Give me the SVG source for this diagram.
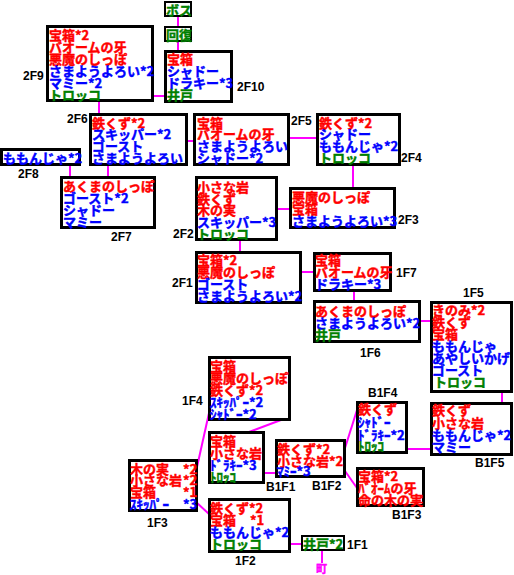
<svg xmlns="http://www.w3.org/2000/svg" width="514" height="575" viewBox="0 0 514 575">
<style>
.box{fill:#fff;stroke:#000;stroke-width:3}
.sbox{fill:#fff;stroke:#000;stroke-width:2}
.t{font-family:"Noto Sans CJK JP","Noto Sans CJK SC",sans-serif;font-size:13px;font-weight:bold;stroke-width:0.45px}
.r{fill:#ff0000;stroke:#ff0000}
.b{fill:#0000ff;stroke:#0000ff}
.g{fill:#008000;stroke:#008000}
.lbl{font-family:"Liberation Sans",Arial,sans-serif;font-size:12px;font-weight:bold;fill:#000}
#links line{stroke:#ff00ff;stroke-width:2}
</style>
<rect x="0" y="0" width="514" height="575" fill="#fff"/>

<g id="links">
<line x1="178" y1="17" x2="178" y2="26"/>
<line x1="178" y1="42" x2="178" y2="50"/>
<line x1="154" y1="96" x2="164" y2="96"/>
<line x1="99" y1="102" x2="99" y2="113"/>
<line x1="188" y1="141" x2="193" y2="141"/>
<line x1="70" y1="166" x2="70" y2="176"/>
<line x1="108" y1="166" x2="108" y2="176"/>
<line x1="290" y1="138" x2="316" y2="138"/>
<line x1="353" y1="166" x2="353" y2="187"/>
<line x1="278" y1="209" x2="289" y2="209"/>
<line x1="240" y1="241" x2="240" y2="251"/>
<line x1="302" y1="272" x2="313" y2="272"/>
<line x1="354" y1="292" x2="354" y2="300"/>
<line x1="421" y1="321" x2="430" y2="321"/>
<line x1="502" y1="393" x2="502" y2="402"/>
<line x1="408" y1="449" x2="430" y2="449"/>
<line x1="345" y1="448" x2="357" y2="410"/>
<line x1="345" y1="471" x2="357" y2="488"/>
<line x1="265" y1="473" x2="275" y2="473"/>
<line x1="281" y1="420" x2="249" y2="432"/>
<line x1="197" y1="467" x2="209" y2="413"/>
<line x1="196" y1="502" x2="209" y2="514"/>
<line x1="291" y1="544" x2="301" y2="544"/>
<line x1="322" y1="551" x2="322" y2="563"/>
</g>

<g id="boss">
<rect class="sbox" x="165" y="2" width="26" height="14"/>
<text class="t g" x="166" y="14.5">ボス</text>
</g>

<g id="heal">
<rect class="sbox" x="165" y="27" width="26" height="14"/>
<text class="t g" x="166" y="39.5">回復</text>
</g>

<g id="f2f10">
<rect class="box" x="165.5" y="51.5" width="66" height="50"/>
<text class="t"><tspan class="r" x="167" y="64">宝箱</tspan><tspan class="b" x="167" y="76">シャドー</tspan><tspan class="b" x="167" y="88">ドラキー*3</tspan><tspan class="g" x="167" y="100">井戸</tspan></text>
<text class="lbl" x="237" y="91">2F10</text>
</g>

<g id="f2f9">
<rect class="box" x="47.5" y="26.5" width="105" height="74"/>
<text class="t"><tspan class="r" x="49" y="40">宝箱*2</tspan><tspan class="r" x="49" y="52">バオームの牙</tspan><tspan class="r" x="49" y="64">悪魔のしっぽ</tspan><tspan class="b" x="49" y="76">さまようよろい*2</tspan><tspan class="b" x="49" y="88">マミー*2</tspan><tspan class="g" x="49" y="100">トロッコ</tspan></text>
<text class="lbl" x="23" y="80">2F9</text>
</g>

<g id="f2f6">
<rect class="box" x="90.5" y="114.5" width="96" height="50"/>
<text class="t"><tspan class="r" x="92" y="127.5">鉄くず*2</tspan><tspan class="b" x="92" y="139.3">スキッパー*2</tspan><tspan class="b" x="92" y="151.1">ゴースト</tspan><tspan class="b" x="92" y="163">さまようよろい</tspan></text>
<text class="lbl" x="67" y="123">2F6</text>
</g>

<g id="f2f8">
<rect class="box" x="1.5" y="149.5" width="78" height="15"/>
<text class="t b" x="3" y="162.5">ももんじゃ*2</text>
<text class="lbl" x="18" y="178">2F8</text>
</g>

<g id="f2f7">
<rect class="box" x="61.5" y="177.5" width="93" height="50"/>
<text class="t"><tspan class="r" x="63" y="191">あくまのしっぽ</tspan><tspan class="b" x="63" y="203">ゴースト*2</tspan><tspan class="b" x="63" y="215">シャドー</tspan><tspan class="b" x="63" y="227">マミー</tspan></text>
<text class="lbl" x="111" y="241">2F7</text>
</g>

<g id="f2f5">
<rect class="box" x="194.5" y="114.5" width="94" height="50"/>
<text class="t"><tspan class="r" x="197" y="127.5">宝箱</tspan><tspan class="r" x="197" y="139.3">バオームの牙</tspan><tspan class="b" x="197" y="151.1">さまようよろい</tspan><tspan class="b" x="197" y="163">シャドー*2</tspan></text>
<text class="lbl" x="291" y="125">2F5</text>
</g>

<g id="f2f4">
<rect class="box" x="317.5" y="114.5" width="82" height="50"/>
<text class="t"><tspan class="r" x="319" y="127.5">鉄くず*2</tspan><tspan class="b" x="319" y="139.3">シャドー</tspan><tspan class="b" x="319" y="151.1">ももんじゃ*2</tspan><tspan class="g" x="319" y="163">トロッコ</tspan></text>
<text class="lbl" x="401" y="162">2F4</text>
</g>

<g id="f2f3">
<rect class="box" x="290.5" y="188.5" width="104" height="39"/>
<text class="t"><tspan class="r" x="292" y="202">悪魔のしっぽ</tspan><tspan class="r" x="292" y="214">宝箱</tspan><tspan class="b" x="292" y="226">さまようよろい*3</tspan></text>
<text class="lbl" x="398" y="224">2F3</text>
</g>

<g id="f2f2">
<rect class="box" x="196.5" y="177.5" width="80" height="62"/>
<text class="t"><tspan class="r" x="197" y="192">小さな岩</tspan><tspan class="r" x="197" y="203.5">鉄くず</tspan><tspan class="r" x="197" y="215">木の実</tspan><tspan class="b" x="197" y="227">スキッパー*3</tspan><tspan class="g" x="197" y="239">トロッコ</tspan></text>
<text class="lbl" x="173" y="238">2F2</text>
</g>

<g id="f2f1">
<rect class="box" x="196.5" y="252.5" width="104" height="50"/>
<text class="t"><tspan class="r" x="197" y="265">宝箱*2</tspan><tspan class="r" x="197" y="277">悪魔のしっぽ</tspan><tspan class="b" x="197" y="289">ゴースト</tspan><tspan class="b" x="197" y="301">さまようよろい*2</tspan></text>
<text class="lbl" x="172" y="287">2F1</text>
</g>

<g id="f1f7">
<rect class="box" x="314.5" y="253.5" width="76" height="37"/>
<text class="t"><tspan class="r" x="315" y="265">宝箱</tspan><tspan class="r" x="315" y="277">バオームの牙</tspan><tspan class="b" x="315" y="289">ドラキー*3</tspan></text>
<text class="lbl" x="396" y="277">1F7</text>
</g>

<g id="f1f6">
<rect class="box" x="314.5" y="301.5" width="105" height="40"/>
<text class="t"><tspan class="r" x="315" y="316">あくまのしっぽ</tspan><tspan class="b" x="315" y="328">さまようよろい*2</tspan><tspan class="g" x="315" y="340">井戸</tspan></text>
<text class="lbl" x="360" y="357">1F6</text>
</g>

<g id="f1f5">
<rect class="box" x="431.5" y="302.5" width="80" height="89"/>
<text class="t"><tspan class="r" x="432" y="314.5">きのみ*2</tspan><tspan class="r" x="432" y="326.5">鉄くず</tspan><tspan class="r" x="432" y="338.5">宝箱</tspan><tspan class="b" x="432" y="350.5">ももんじゃ</tspan><tspan class="b" x="432" y="362.5">あやしいかげ</tspan><tspan class="b" x="432" y="374.5">ゴースト</tspan><tspan class="g" x="434" y="386.5">トロッコ</tspan></text>
<text class="lbl" x="463" y="297">1F5</text>
</g>

<g id="fb1f5">
<rect class="box" x="431.5" y="403.5" width="80" height="51"/>
<text class="t"><tspan class="r" x="432" y="415">鉄くず</tspan><tspan class="r" x="432" y="427.5">小さな岩</tspan><tspan class="b" x="432" y="440">ももんじゃ*2</tspan><tspan class="b" x="432" y="452">マミー</tspan></text>
<text class="lbl" x="475" y="467">B1F5</text>
</g>

<g id="fb1f4">
<rect class="box" x="357.5" y="402.5" width="49" height="50"/>
<text class="t"><tspan class="r" x="358" y="414">鉄くず</tspan><tspan class="b" x="358" y="427">ｼｬﾄﾞｰ</tspan><tspan class="b" x="358" y="439.5">ﾄﾞﾗｷｰ*2</tspan><tspan class="g" x="358" y="451">ﾄﾛｯｺ</tspan></text>
<text class="lbl" x="368" y="397">B1F4</text>
</g>

<g id="fb1f2">
<rect class="box" x="276.5" y="440.5" width="68" height="36"/>
<text class="t"><tspan class="r" x="277" y="453.5">鉄くず*2</tspan><tspan class="r" x="277" y="466">小さな岩*2</tspan><tspan class="b" x="277" y="475.5">ﾏﾐｰ*3</tspan></text>
<text class="lbl" x="312" y="490">B1F2</text>
</g>

<g id="fb1f3">
<rect class="box" x="357.5" y="468.5" width="66" height="37"/>
<text class="t"><tspan class="r" x="358" y="481">宝箱*2</tspan><tspan class="r" x="358" y="493">ﾊﾞｵｰﾑの牙</tspan><tspan class="r" x="358" y="505">命の木の実</tspan></text>
<text class="lbl" x="392" y="519">B1F3</text>
</g>

<g id="fb1f1">
<rect class="box" x="209.5" y="432.5" width="54" height="50"/>
<text class="t"><tspan class="r" x="210" y="446">宝箱</tspan><tspan class="r" x="210" y="458">小さな岩</tspan><tspan class="b" x="210" y="470">ﾄﾞﾗｷｰ*3</tspan><tspan class="g" x="210" y="482">ﾄﾛｯｺ</tspan></text>
<text class="lbl" x="266" y="491">B1F1</text>
</g>

<g id="f1f4">
<rect class="box" x="209.5" y="357.5" width="80" height="62"/>
<text class="t"><tspan class="r" x="210" y="371">宝箱</tspan><tspan class="r" x="210" y="383">悪魔のしっぽ</tspan><tspan class="r" x="210" y="395">鉄くず*2</tspan><tspan class="b" x="210" y="407">ｽｷｯﾊﾟｰ*2</tspan><tspan class="b" x="210" y="419">ｼｬﾄﾞｰ*2</tspan></text>
<text class="lbl" x="182" y="405">1F4</text>
</g>

<g id="f1f3">
<rect class="box" x="129.5" y="460.5" width="67" height="50"/>
<text class="t"><tspan class="r" x="130" y="473.5">木の実</tspan><tspan class="r" x="183" y="473.5">*2</tspan><tspan class="r" x="130" y="485">小さな岩</tspan><tspan class="r" x="183" y="485">*2</tspan><tspan class="r" x="130" y="496.5">宝箱</tspan><tspan class="r" x="183" y="496.5">*1</tspan><tspan class="b" x="130" y="509">ｽｷｯﾊﾟｰ</tspan><tspan class="b" x="183" y="509">*3</tspan></text>
<text class="lbl" x="147" y="527">1F3</text>
</g>

<g id="f1f2">
<rect class="box" x="209.5" y="499.5" width="80" height="52"/>
<text class="t"><tspan class="r" x="210" y="512.5">鉄くず*2</tspan><tspan class="r" x="210" y="524.5">宝箱</tspan><tspan class="r" x="250" y="524.5">*1</tspan><tspan class="b" x="210" y="537">ももんじゃ*2</tspan><tspan class="g" x="210" y="548.5">トロッコ</tspan></text>
<text class="lbl" x="235" y="565">1F2</text>
</g>

<g id="f1f1">
<rect class="sbox" x="302" y="536" width="42" height="14"/>
<text class="t g" x="303" y="548.5">井戸*2</text>
<text class="lbl" x="347" y="549">1F1</text>
</g>

<g id="town">
<text class="t" x="316" y="573" style="font-size:11px;fill:#ff00ff;stroke:#ff00ff">町</text>
</g>
</svg>
